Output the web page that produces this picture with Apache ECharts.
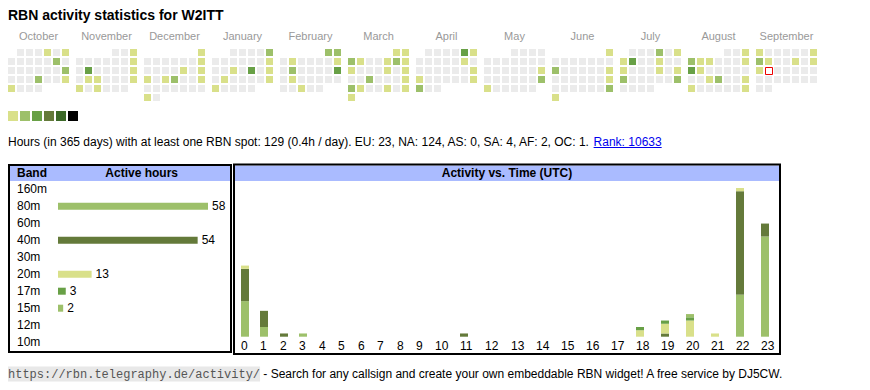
<!DOCTYPE html>
<html><head><meta charset="utf-8">
<script src="https://cdn.jsdelivr.net/npm/echarts@6/dist/echarts.min.js"></script>
<style>html,body{margin:0;padding:0;background:#fff}#c{width:870px;height:390px}</style>
</head><body><div id="c"></div>
<script>
// ---------- DATA ----------
const title = 'RBN activity statistics for W2ITT';
const months = ['October','November','December','January','February','March','April','May','June','July','August','September'];
const startYear = 2024, startMonth = 9; // October 2024
// activity level per day (0 = none)
const oct = [0,0,0,1,0,1, 0,0,0,0,0,2,0, 0,0,0,0,0,0,2, 0,0,0,2,0,0,1, 1,0,0,0];
const nov = [0,0,1, 0,0,0,0,0,0,1, 0,3,0,0,0,0,1, 0,1,1,0,0,0,1, 1,0,1,0,0,0];
const dec = [1, 0,0,0,0,0,0,1, 0,0,0,0,1,0,1, 1,0,1,2,0,0,1, 0,0,0,0,0,0,0, 1,0];
const jan = [0,0,0,0,2, 0,0,0,0,0,0,1, 0,0,1,0,3,0,1, 0,1,0,0,0,0,1, 1,0,0,0,0];
const feb = [2,2, 0,1,0,0,0,0,1, 0,2,0,0,0,0,3, 0,1,0,0,0,0,0, 0,0,1,0,0];
const mar = [1,1, 2,1,0,0,1,2,1, 1,0,0,0,1,0,1, 0,0,2,0,0,0,1, 2,1,0,0,1,0,1, 1];
const apr = [0,0,0,0,3,1, 0,0,0,0,0,1,0, 0,0,0,0,0,0,1, 1,0,0,0,0,0,1, 2,0,0];
const may = [0,0,0,0, 0,0,0,0,0,0,0, 0,0,0,0,0,0,1, 0,0,0,0,0,0,2, 1,0,0,0,0,0];
const jun = [1, 0,0,0,0,0,0,0, 2,0,0,0,0,0,1, 0,0,0,0,0,0,1, 0,0,0,0,0,0,2, 1];
const jul = [0,0,0,2,0,1, 1,3,0,0,1,0,0, 1,0,0,0,1,0,1, 2,0,0,0,0,0,2, 0,0,0,0];
const aug = [0,0,1, 2,1,1,0,0,0,1, 3,1,0,0,0,0,0, 0,0,1,2,0,0,1, 1,0,0,0,0,0,1];
const sep = [1,0,0,0,0,0,1, 2,1,0,0,1,0,1, 1,0,0,0,0,0,0, 0,0,0,0,0,0,0, 0,0];
const dayLevels = [oct, nov, dec, jan, feb, mar, apr, may, jun, jul, aug, sep];
const todayMonth = 11, todayDay = 16;

const statsText = 'Hours (in 365 days) with at least one RBN spot: 129 (0.4h / day). EU: 23, NA: 124, AS: 0, SA: 4, AF: 2, OC: 1. ';
const rankText = 'Rank: 10633';

const bands = ['160m','80m','60m','40m','30m','20m','17m','15m','12m','10m'];
const bandHours = [0,58,0,54,0,13,3,2,0,0];

const hours = ['0','1','2','3','4','5','6','7','8','9','10','11','12','13','14','15','16','17','18','19','20','21','22','23'];
const act80m = [11,3,0,0,0,0,0,0,0,0,0,0,0,0,0,0,0,0,0,0,0,0,13,31];
const act40m = [10,5,1,0,0,0,0,0,0,0,0,1,0,0,0,0,0,0,0,1,0,0,32,4];
const act20m = [1,0,0,0,0,0,0,0,0,0,0,0,0,0,0,0,0,0,2,3,5,1,1,0];
const act17m = [0,0,0,0,0,0,0,0,0,0,0,0,0,0,0,0,0,0,1,1,1,0,0,0];
const act15m = [0,0,0,1,0,0,0,0,0,0,0,0,0,0,0,0,0,0,0,0,1,0,0,0];

const footerUrl = 'https://rbn.telegraphy.de/activity/';
const footerText = ' - Search for any callsign and create your own embeddable RBN widget! A free service by DJ5CW.';

// ---------- STYLE ----------
const FONT = '"Liberation Sans", Arial, Helvetica, sans-serif';
const levelColors = ['#ebebeb','#d9e08a','#9dc06a','#68a046','#647a3a','#3c6928','#000000'];
const bandColors = {'160m':'#3c6928','80m':'#9dc06a','60m':'#68a046','40m':'#647a3a','30m':'#3c6928',
  '20m':'#d9e08a','17m':'#68a046','15m':'#9dc06a','12m':'#647a3a','10m':'#d9e08a'};

// calendar cells
const calData = [];
months.forEach((name, m) => {
  const y = startYear + Math.floor((startMonth + m) / 12), mo = (startMonth + m) % 12;
  const wd = (new Date(y, mo, 1).getDay() + 6) % 7;
  dayLevels[m].forEach((lv, d) => {
    const idx = wd + d;
    calData.push([m, idx % 7, Math.floor(idx / 7), lv, (m === todayMonth && d + 1 === todayDay) ? 1 : 0]);
  });
});

// hour columns: width depends on label length (as in an auto-sized table)
const colLeft = [];
let acc = 0;
hours.forEach(h => { colLeft.push(Math.round(acc)); acc += h.length === 1 ? 19.45 : 25; });
const actSeries = [['80m', act80m], ['40m', act40m], ['20m', act20m], ['17m', act17m], ['15m', act15m]];
const totals = hours.map((h, i) => actSeries.reduce((s, a) => s + a[1][i], 0));
const yMax = Math.max(...totals);
const actData = hours.map((h, i) => [colLeft[i] + 4].concat(actSeries.map(a => a[1][i])));

// measure for link underline
const mctx = document.createElement('canvas').getContext('2d');
mctx.font = '12px ' + FONT;
const wStats = mctx.measureText(statsText).width;
const wRank = mctx.measureText(rankText).width;

const chart = echarts.init(document.getElementById('c'), null, {renderer: 'svg', width: 870, height: 390});

const series = [];
// calendar
series.push({
  type: 'custom', xAxisIndex: 0, yAxisIndex: 0, silent: true, clip: false,
  encode: {x: 0, y: 2}, data: calData,
  renderItem: (params, api) => {
    const p = api.coord([api.value(0), api.value(2)]);
    const x = p[0] - 30.5 + api.value(1) * 9;
    const today = api.value(4) === 1;
    if (today) {
      return {type: 'rect', shape: {x: x + 0.5, y: p[1] + 0.5, width: 7, height: 7},
        style: {fill: '#fff', stroke: '#ee0000', lineWidth: 1}};
    }
    return {type: 'rect', shape: {x: x, y: p[1], width: 7, height: 7},
      style: {fill: levelColors[api.value(3)]}};
  }
});
// band bars
series.push({
  type: 'bar', xAxisIndex: 1, yAxisIndex: 1, barWidth: 7, silent: true,
  data: bandHours.map((v, i) => ({value: v, itemStyle: {color: bandColors[bands[i]]}})),
  label: {show: true, position: 'right', distance: 4, fontSize: 12, fontFamily: FONT, color: '#000',
    formatter: p => p.value > 0 ? String(p.value) : ''}
});
// activity stacked bars (stack order: 80m, 40m, 20m, 17m, 15m from bottom)
series.push({
  type: 'custom', xAxisIndex: 2, yAxisIndex: 2, silent: true, clip: false,
  encode: {x: 0, y: [1, 2, 3, 4, 5]}, data: actData,
  renderItem: (params, api) => {
    const x = api.value(0);
    const children = [];
    let base = 0;
    actSeries.forEach((a, k) => {
      const v = api.value(k + 1);
      if (v > 0) {
        const top = api.coord([x, base + v]);
        const bot = api.coord([x, base]);
        children.push({type: 'rect', shape: {x: top[0] - 4, y: top[1], width: 8, height: bot[1] - top[1]},
          style: {fill: bandColors[a[0]]}});
        base += v;
      }
    });
    return {type: 'group', children: children};
  }
});
// hour labels
series.push({
  type: 'custom', xAxisIndex: 2, yAxisIndex: 2, silent: true, clip: false,
  data: hours.map((h, i) => [colLeft[i], 0]),
  renderItem: (params, api) => {
    const p = api.coord([api.value(0), 0]);
    return {type: 'text', style: {text: hours[params.dataIndex], x: p[0], y: p[1] + 9.6,
      align: 'left', verticalAlign: 'middle', fontSize: 12, fontFamily: FONT, fill: '#000'}};
  }
});

const graphic = [
  {type: 'text', style: {text: title, x: 8, y: 15.4, verticalAlign: 'middle', fontSize: 14, fontWeight: 'bold', fontFamily: FONT, fill: '#000'}},
];
levelColors.slice(1).forEach((c, i) => {
  graphic.push({type: 'rect', shape: {x: 8 + 12 * i, y: 111, width: 10, height: 10}, style: {fill: c}});
});
graphic.push(
  {type: 'text', style: {text: '{a|' + statsText + '}{r|' + rankText + '}', x: 8, y: 142, verticalAlign: 'middle',
    fontSize: 12, fontFamily: FONT,
    rich: {a: {fontSize: 12, fontFamily: FONT, fill: '#000', color: '#000'}, r: {fontSize: 12, fontFamily: FONT, fill: '#0000ee', color: '#0000ee'}}}},
  {type: 'line', shape: {x1: 8 + wStats, y1: 147.5, x2: 8 + wStats + wRank, y2: 147.5}, style: {stroke: '#0000ee', lineWidth: 1}},
  // band table
  {type: 'rect', shape: {x: 10, y: 166, width: 220, height: 15}, style: {fill: '#aabbff'}},
  {type: 'rect', shape: {x: 9, y: 165, width: 222, height: 187}, style: {fill: null, stroke: '#000', lineWidth: 2}},
  {type: 'text', style: {text: 'Band', x: 17, y: 173.3, verticalAlign: 'middle', fontSize: 12, fontWeight: 'bold', fontFamily: FONT, fill: '#000'}},
  {type: 'text', style: {text: 'Active hours', x: 141.7, y: 173.3, align: 'center', verticalAlign: 'middle', fontSize: 12, fontWeight: 'bold', fontFamily: FONT, fill: '#000'}},
  // activity table
  {type: 'rect', shape: {x: 235, y: 165.5, width: 544, height: 15.5}, style: {fill: '#aabbff'}},
  {type: 'rect', shape: {x: 234, y: 164.5, width: 546, height: 189.5}, style: {fill: null, stroke: '#000', lineWidth: 2}},
  {type: 'text', style: {text: 'Activity vs. Time (UTC)', x: 507, y: 173.3, align: 'center', verticalAlign: 'middle', fontSize: 12, fontWeight: 'bold', fontFamily: FONT, fill: '#000'}},
  // footer
  {type: 'text', style: {text: '{c|' + footerUrl + '}{t|' + footerText + '}', x: 8, y: 374, verticalAlign: 'middle',
    fontSize: 12, fontFamily: FONT,
    rich: {c: {fontSize: 12, fontFamily: '"Liberation Mono", "DejaVu Sans Mono", monospace', fill: '#555', color: '#555', backgroundColor: '#e8e8e8', padding: [2, 0, 1, 0]},
      t: {fontSize: 12, fontFamily: FONT, fill: '#000', color: '#000'}}}}
);

chart.setOption({
  animation: false,
  backgroundColor: '#fff',
  grid: [
    {left: 4.5, top: 49, width: 816, height: 54},
    {left: 58, top: 180.7, width: 150, height: 170},
    {left: 241, top: 188, width: 540, height: 148.7}
  ],
  xAxis: [
    {type: 'category', gridIndex: 0, data: months, position: 'top', axisLine: {show: false}, axisTick: {show: false},
      splitLine: {show: false}, axisLabel: {interval: 0, color: '#999', fontSize: 11, fontFamily: FONT, margin: 8}},
    {type: 'value', gridIndex: 1, min: 0, max: Math.max(...bandHours), show: false},
    {type: 'value', gridIndex: 2, min: 0, max: 540, show: false}
  ],
  yAxis: [
    {type: 'value', gridIndex: 0, min: 0, max: 6, inverse: true, show: false},
    {type: 'category', gridIndex: 1, data: bands, inverse: true, axisLine: {show: false}, axisTick: {show: false},
      splitLine: {show: false}, axisLabel: {align: 'left', margin: 41, fontSize: 12, fontFamily: FONT, color: '#000'}},
    {type: 'value', gridIndex: 2, min: 0, max: yMax, show: false}
  ],
  series: series,
  graphic: graphic
});
</script>
</body></html>
